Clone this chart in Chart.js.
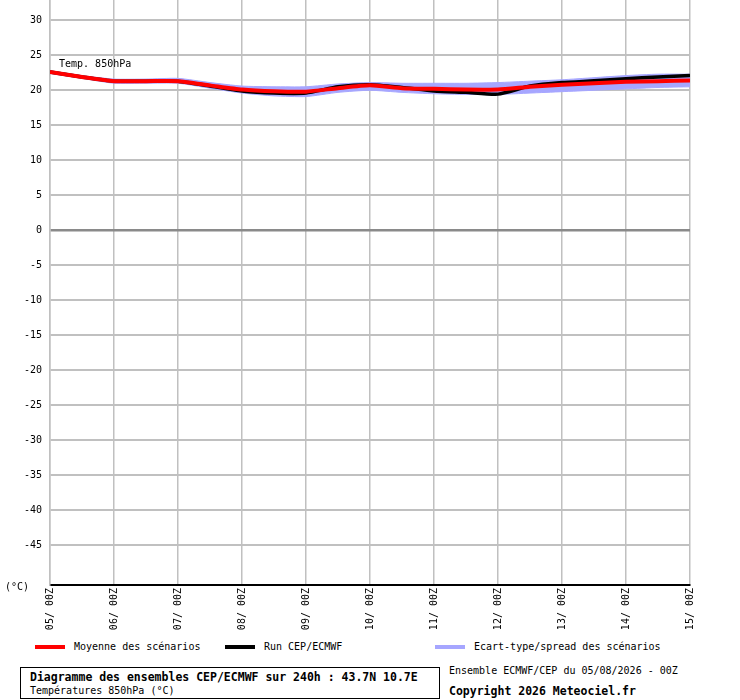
<!DOCTYPE html>
<html>
<head>
<meta charset="utf-8">
<script src="https://cdn.jsdelivr.net/npm/chart.js@4.4.1/dist/chart.umd.min.js"></script>
<style>
  body { margin: 0; background: #fff; font-family: "DejaVu Sans Mono", monospace; }
  #wrap { position: relative; width: 740px; height: 700px; }
  #chartBox { position: absolute; left: 0; top: 0; width: 740px; height: 640px; }
  .leg { position: absolute; top: 640px; font-size: 10px; height: 14px; line-height: 14px; }
  .leg span.sw { position: absolute; left: 0; top: 5px; width: 30px; height: 4px; }
  .leg span.tx { position: absolute; left: 39px; white-space: nowrap; }
  #titleBox { position: absolute; left: 20px; top: 667px; width: 418px; height: 30px; border: 1px solid #000; }
  #titleBox .t1 { position: absolute; left: 9px; top: 2px; font-weight: bold; font-size: 11.5px; white-space: nowrap; }
  #titleBox .t2 { position: absolute; left: 9px; top: 17px; font-size: 10px; white-space: nowrap; }
  .info { position: absolute; left: 449px; white-space: nowrap; }
</style>
</head>
<body>
<div id="wrap">
  <div id="chartBox"><canvas id="ensChart"></canvas></div>
  <div class="leg" style="left:35px;"><span class="sw" style="background:#ff0000;"></span><span class="tx">Moyenne des scénarios</span></div>
  <div class="leg" style="left:225px;"><span class="sw" style="background:#000;"></span><span class="tx">Run CEP/ECMWF</span></div>
  <div class="leg" style="left:435px;"><span class="sw" style="background:#a6a6ff;"></span><span class="tx">Ecart-type/spread des scénarios</span></div>
  <div id="titleBox">
    <div class="t1">Diagramme des ensembles CEP/ECMWF sur 240h : 43.7N 10.7E</div>
    <div class="t2">Températures 850hPa (°C)</div>
  </div>
  <div class="info" style="top:665px; font-size:10px;">Ensemble ECMWF/CEP du 05/08/2026 - 00Z</div>
  <div class="info" style="top:684px; font-size:11.5px; font-weight:bold;">Copyright 2026 Meteociel.fr</div>
</div>

<script>
// forecast hours (every 12h over 240h)
const hours = [0, 12, 24, 36, 48, 60, 72, 84, 96, 108, 120, 132, 144, 156, 168, 180, 192, 204, 216, 228, 240];
const dayLabels = ['05/ 00Z', '06/ 00Z', '07/ 00Z', '08/ 00Z', '09/ 00Z', '10/ 00Z', '11/ 00Z', '12/ 00Z', '13/ 00Z', '14/ 00Z', '15/ 00Z'];

// temperatures 850hPa (°C)
const meanTemp = [22.6, 21.9, 21.3, 21.3, 21.3, 20.7, 20.1, 19.85, 19.8, 20.3, 20.7, 20.3, 20.2, 20.1, 20.1, 20.5, 20.8, 21.0, 21.2, 21.3, 21.4];
const runTemp = [22.6, 21.9, 21.3, 21.3, 21.3, 20.6, 19.9, 19.6, 19.6, 20.5, 20.8, 20.4, 19.9, 19.7, 19.45, 20.6, 21.1, 21.35, 21.65, 21.9, 22.1];
const spreadHigh = [22.8, 22.1, 21.6, 21.6, 21.7, 21.1, 20.6, 20.5, 20.5, 20.9, 21.1, 21.0, 21.0, 21.0, 21.1, 21.3, 21.5, 21.8, 22.1, 22.3, 22.3];
const spreadLow = [22.4, 21.7, 21.0, 21.0, 21.0, 20.3, 19.6, 19.2, 19.1, 19.7, 20.0, 19.7, 19.5, 19.4, 19.4, 19.6, 19.8, 20.0, 20.2, 20.4, 20.5];

const yTicks = [30, 25, 20, 15, 10, 5, 0, -5, -10, -15, -20, -25, -30, -35, -40, -45];

function toPoints(values) {
    return values.map((v, i) => ({ x: hours[i], y: v }));
}

const monoFont = { family: "'DejaVu Sans Mono', monospace", size: 10 };

// extra texts drawn on the canvas
const extraText = {
    id: 'extraText',
    afterDraw(chart) {
        const ctx = chart.ctx;
        const xs = chart.scales.x;
        const ys = chart.scales.y;
        ctx.save();
        ctx.fillStyle = '#000';
        ctx.font = "10px 'DejaVu Sans Mono', monospace";
        ctx.textBaseline = 'middle';
        ctx.textAlign = 'left';
        ctx.fillText('Temp. 850hPa', xs.getPixelForValue(0) + 9, ys.getPixelForValue(23.7));
        ctx.fillText('(°C)', 5, chart.chartArea.bottom + 2);
        ctx.restore();
    }
};

const config = {
    type: 'line',
    data: {
        datasets: [
            {
                label: 'Moyenne des scénarios',
                data: toPoints(meanTemp),
                borderColor: '#ff0000',
                borderWidth: 4,
                pointRadius: 0,
                tension: 0.2,
                fill: false,
                order: 1
            },
            {
                label: 'Run CEP/ECMWF',
                data: toPoints(runTemp),
                borderColor: '#000000',
                borderWidth: 3.5,
                pointRadius: 0,
                tension: 0.2,
                fill: false,
                order: 2
            },
            {
                label: 'spreadHigh',
                data: toPoints(spreadHigh),
                borderColor: 'rgba(166,166,255,1)',
                borderWidth: 1,
                pointRadius: 0,
                tension: 0.2,
                fill: false,
                order: 3
            },
            {
                label: 'Ecart-type/spread des scénarios',
                data: toPoints(spreadLow),
                borderColor: 'rgba(166,166,255,1)',
                backgroundColor: 'rgba(166,166,255,1)',
                borderWidth: 1,
                pointRadius: 0,
                tension: 0.2,
                fill: '-1',
                order: 3
            }
        ]
    },
    options: {
        responsive: true,
        maintainAspectRatio: false,
        animation: false,
        layout: { padding: { left: 0, right: 50, top: 0, bottom: 0 } },
        plugins: {
            legend: { display: false },
            tooltip: { enabled: false }
        },
        scales: {
            x: {
                type: 'linear',
                min: 0,
                max: 240,
                afterBuildTicks: (scale) => {
                    scale.ticks = dayLabels.map((l, i) => ({ value: i * 24 }));
                },
                afterFit: (scale) => {
                    scale.height = 55;
                    scale.paddingLeft = 0;
                    scale.paddingRight = 0;
                },
                ticks: {
                    autoSkip: false,
                    maxRotation: 90,
                    minRotation: 90,
                    padding: 3,
                    color: '#000',
                    font: monoFont,
                    callback: (value) => dayLabels[Math.round(value / 24)]
                },
                grid: {
                    color: '#c0c0c0',
                    lineWidth: 1.5,
                    drawTicks: false
                },
                border: { color: '#000', width: 2 }
            },
            y: {
                min: -50.7,
                max: 32.9,
                afterBuildTicks: (scale) => {
                    scale.ticks = yTicks.map(v => ({ value: v }));
                },
                afterFit: (scale) => {
                    scale.width = 50;
                    scale.paddingTop = 0;
                    scale.paddingBottom = 0;
                },
                ticks: {
                    padding: 8,
                    color: '#000',
                    font: monoFont
                },
                grid: {
                    color: (c) => c.tick && c.tick.value === 0 ? '#8a8a8a' : '#c0c0c0',
                    lineWidth: (c) => c.tick && c.tick.value === 0 ? 2.5 : 2,
                    drawTicks: false
                },
                border: { color: '#c0c0c0', width: 1.5 }
            }
        }
    },
    plugins: [extraText]
};

document.addEventListener('DOMContentLoaded', function () {
    const ctx = document.getElementById('ensChart').getContext('2d');
    new Chart(ctx, config);
});
</script>
</body>
</html>
